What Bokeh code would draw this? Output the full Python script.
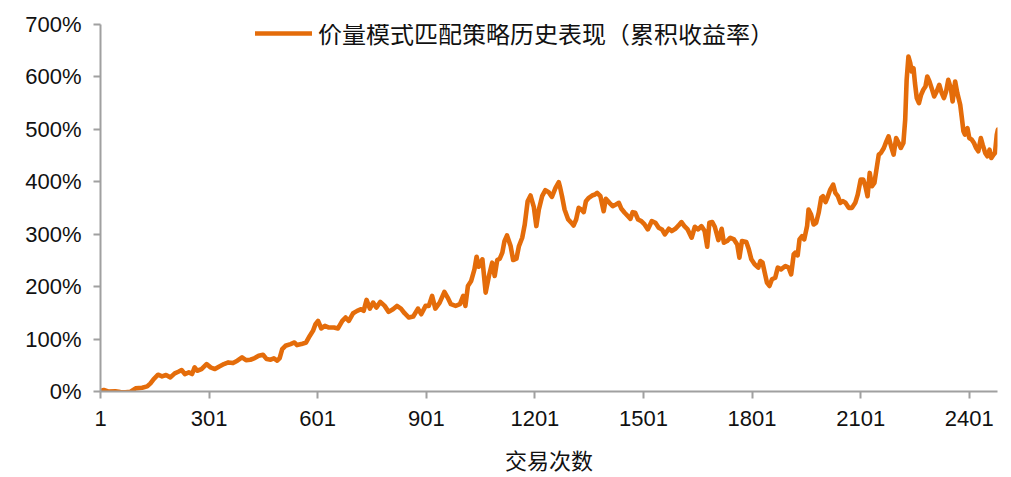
from bokeh.plotting import figure
from bokeh.models import Range1d, FixedTicker, PrintfTickFormatter, Legend, LegendItem, ColumnDataSource
from bokeh.embed import file_html
from bokeh.resources import INLINE

# Data (trade number, cumulative return in %)
trade_no = [
    1, 4, 10, 24, 42, 56, 70, 84, 98, 116,
    130, 139, 148, 160, 171, 182, 194, 206, 216, 225,
    234, 245, 254, 261, 268, 280, 294, 305, 317, 328,
    342, 354, 367, 379, 392, 403, 415, 427, 438, 450,
    460, 471, 480, 489, 496, 503, 512, 526, 537, 544,
    556, 569, 579, 588, 595, 602, 611, 621, 632,
    646, 657, 669, 678, 687, 699, 710, 721, 728, 736,
    745, 754, 763, 774, 786, 797, 809, 820, 831, 841,
    853, 865, 878, 887, 899, 908, 917, 926, 938, 951,
    960, 969, 982, 994, 1003, 1009, 1016, 1025, 1034, 1040,
    1046, 1056, 1065, 1074, 1083, 1090, 1097, 1104, 1111, 1117,
    1124, 1134, 1141, 1150, 1157, 1166, 1173, 1181, 1189, 1198,
    1205, 1212, 1221, 1230, 1239, 1248, 1258, 1267, 1271,
    1276, 1283, 1293, 1302, 1308, 1315, 1322, 1329, 1336, 1342,
    1350, 1359, 1367, 1373, 1382, 1391, 1397, 1407, 1416, 1425,
    1433, 1440, 1449, 1458, 1465, 1471, 1478, 1486, 1495, 1504,
    1513, 1524, 1534, 1543, 1552, 1560, 1571, 1579, 1589, 1598,
    1606, 1614, 1623, 1634, 1643, 1652, 1661, 1670, 1677, 1683,
    1691, 1698, 1708, 1717, 1723, 1732, 1741, 1751, 1760, 1766,
    1773, 1785, 1792, 1799, 1808, 1818, 1824, 1830, 1836, 1842,
    1849, 1856, 1865, 1872, 1881, 1893, 1902, 1909, 1916,
    1920, 1927, 1932, 1939, 1945, 1953, 1957, 1964, 1971, 1978,
    1985, 1992, 1997, 2004, 2010, 2017, 2025, 2031, 2038, 2045,
    2052, 2059, 2068, 2077, 2086, 2093, 2101, 2108, 2114, 2120,
    2126, 2132, 2139, 2146, 2151, 2157, 2165, 2172, 2178, 2185,
    2192, 2199, 2206, 2212, 2219, 2224, 2228, 2233, 2238, 2242,
    2247, 2251, 2256, 2262, 2268, 2274, 2280, 2285, 2291, 2297,
    2304, 2311, 2318, 2325, 2331, 2337, 2343, 2350, 2355, 2362,
    2368, 2376, 2380, 2385, 2389, 2396, 2401, 2408, 2414, 2420,
    2426, 2433, 2438, 2445, 2451, 2457, 2462, 2468, 2472, 2477,
    2480,
]

cum_return_pct = [
    0.0, 1.6, 2.9, -0.3, 0.3, -1.0, -1.6, -0.3, 6.0, 7.3,
    9.8, 15.5, 23.8, 32.0, 28.9, 31.4, 27.0, 34.6, 37.7, 40.9,
    33.3, 36.5, 33.3, 46.0, 39.6, 42.8, 52.3, 46.0, 42.8, 47.2,
    52.3, 55.5, 54.2, 58.7, 65.0, 59.9, 60.6, 63.7, 68.2, 70.1,
    61.8, 60.6, 63.1, 58.7, 63.7, 80.8, 87.2, 90.4, 93.5, 88.5,
    90.4, 93.5, 106.0, 115.7, 128.4, 134.7, 120.2, 125.2, 122.0,
    122.1, 120.2, 134.7, 141.1, 134.7, 149.3, 153.8, 156.9, 153.8, 174.7,
    158.2, 169.6, 160.1, 170.9, 163.3, 151.9, 156.9, 163.3, 158.2, 149.3,
    141.1, 143.0, 158.2, 147.4, 163.3, 163.3, 182.3, 158.2, 169.6, 189.9,
    179.1, 166.5, 163.3, 166.5, 182.3, 163.3, 201.3, 210.8, 233.0, 257.1,
    238.1, 252.1, 188.6, 220.4, 245.7, 220.4, 250.8, 253.3, 264.7, 286.9,
    297.7, 277.4, 250.8, 253.3, 277.4, 293.3, 318.6, 363.0, 373.8, 352.3,
    315.5, 347.2, 372.5, 384.0, 380.2, 371.3, 388.4, 399.2, 388.4,
    372.5, 347.2, 328.1, 321.8, 316.7, 328.1, 350.3, 347.2, 342.1, 363.0,
    369.4, 373.8, 375.7, 378.9, 372.5, 344.0, 367.5, 359.9, 353.6, 356.7,
    359.9, 348.5, 340.9, 334.5, 329.4, 342.1, 340.9, 328.1, 325.0, 318.6,
    309.1, 325.0, 321.8, 312.3, 309.1, 299.6, 310.4, 306.0, 310.4, 316.7,
    323.1, 315.5, 309.1, 293.3, 314.2, 309.1, 315.5, 306.0, 276.1, 321.8,
    323.1, 314.2, 288.8, 310.4, 283.8, 287.0, 293.3, 290.1, 280.6, 255.2,
    287.0, 285.0, 271.1, 252.1, 242.6, 236.2, 248.9, 245.7, 226.7, 207.7,
    201.3, 214.1, 217.2, 236.2, 233.0, 239.4, 236.2, 223.5, 261.6,
    264.7, 259.7, 290.1, 296.4, 290.1, 315.5, 347.2, 337.7, 318.6, 321.8,
    340.9, 369.4, 372.5, 361.1, 371.3, 385.2, 394.7, 378.9, 372.5, 359.9,
    363.0, 359.9, 350.3, 350.3, 359.9, 375.7, 404.2, 404.2, 391.5, 372.5,
    416.9, 391.5, 397.9, 429.6, 451.8, 455.0, 464.5, 477.2, 486.7, 467.7,
    451.8, 483.5, 474.0, 464.5, 474.0, 518.4, 594.5, 638.9, 626.2, 610.3,
    616.7, 588.2, 559.6, 550.1, 566.0, 575.5, 581.8, 600.8, 591.3, 578.6,
    562.8, 572.3, 585.0, 569.1, 559.6, 572.3, 594.5, 578.6, 553.3, 591.3,
    569.1, 546.9, 524.7, 496.2, 489.9, 502.5, 483.5, 480.3, 474.0, 464.5,
    458.1, 483.5, 470.8, 455.0, 448.6, 461.3, 445.5, 451.8, 455.0, 489.9,
    499.4,
]

x_ticks = [1, 301, 601, 901, 1201, 1501, 1801, 2101, 2401]
y_ticks = [0, 100, 200, 300, 400, 500, 600, 700]
series_name = "价量模式匹配策略历史表现（累积收益率）"
x_title = "交易次数"

assert len(trade_no) == len(cum_return_pct)

LINE_COLOR = "#E46C0A"
AXIS_COLOR = "#A0A0A0"
TICK_FONT = "Liberation Sans"
CJK_FONT = "Noto Sans CJK SC"

p = figure(width=1003, height=477, output_backend="svg", toolbar_location=None,
           x_range=Range1d(1, 2479), y_range=Range1d(0, 700))
p.min_border_left = 100
p.min_border_right = 6
p.min_border_top = 24
p.min_border_bottom = 84
p.outline_line_color = None
p.background_fill_color = "white"
p.border_fill_color = "white"
p.xgrid.visible = False
p.ygrid.visible = False

src = ColumnDataSource(dict(x=trade_no, y=cum_return_pct))
r = p.line("x", "y", source=src, line_color=LINE_COLOR, line_width=4.6,
           line_join="round", line_cap="round")

for ax in (p.xaxis[0], p.yaxis[0]):
    ax.axis_line_color = AXIS_COLOR
    ax.axis_line_width = 2
    ax.major_tick_line_color = AXIS_COLOR
    ax.major_tick_line_width = 2
    ax.major_tick_in = 0
    ax.major_tick_out = 7
    ax.minor_tick_line_color = None
    ax.major_label_text_font = TICK_FONT
    ax.major_label_text_font_size = "22px"
    ax.major_label_text_color = "#111111"

p.xaxis[0].ticker = FixedTicker(ticks=x_ticks)
p.xaxis[0].major_label_standoff = 12
p.xaxis[0].axis_label = x_title
p.xaxis[0].axis_label_text_font = CJK_FONT
p.xaxis[0].axis_label_text_font_size = "22px"
p.xaxis[0].axis_label_text_font_style = "normal"
p.xaxis[0].axis_label_text_color = "#111111"
p.xaxis[0].axis_label_standoff = 14

p.yaxis[0].ticker = FixedTicker(ticks=y_ticks)
p.yaxis[0].formatter = PrintfTickFormatter(format="%d%%")
p.yaxis[0].major_label_standoff = 12

legend = Legend(items=[LegendItem(label=series_name, renderers=[r])],
                location=(155, 341), orientation="horizontal")
legend.label_text_font = CJK_FONT
legend.label_text_font_size = "24px"
legend.label_text_color = "#111111"
legend.label_height = 26
legend.glyph_height = 26
legend.glyph_width = 57
legend.label_standoff = 6
legend.padding = 0
legend.margin = 0
legend.border_line_color = None
legend.background_fill_alpha = 0
p.add_layout(legend)

open("out.html", "w").write(file_html(p, INLINE))
